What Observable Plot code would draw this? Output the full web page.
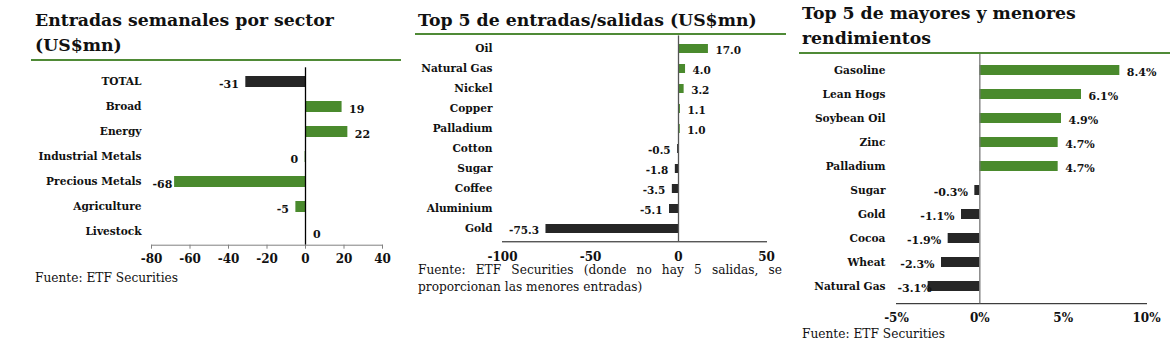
<!DOCTYPE html>
<html>
<head>
<meta charset="utf-8">
<script src="https://cdn.jsdelivr.net/npm/d3@7"></script>
<script src="https://cdn.jsdelivr.net/npm/@observablehq/plot@0.6"></script>
<style>
  html, body { margin: 0; padding: 0; background: #fff; }
  #root { position: relative; width: 1174px; height: 364px; overflow: hidden; font-family: "DejaVu Serif", serif; color: #111; }
  .title { position: absolute; font-weight: bold; font-size: 17.3px; line-height: 25px; color: #111; white-space: nowrap; }
  .rule { position: absolute; height: 2px; background: #4f8a36; }
  .cap { position: absolute; font-size: 12.2px; line-height: 16.5px; color: #111; }
  .plot { position: absolute; }
  .plot svg text { font-weight: bold; }
</style>
</head>
<body>
<div id="root">
  <div class="title" style="left:35px; top:8px;">Entradas semanales por sector<br>(US$mn)</div>
  <div class="rule" style="left:31px; top:59px; width:370px;"></div>
  <div class="plot" id="p1" style="left:0px; top:62px;"></div>
  <div class="cap" style="left:35px; top:270px;">Fuente: ETF Securities</div>

  <div class="title" style="left:418px; top:8px;">Top 5 de entradas/salidas (US$mn)</div>
  <div class="rule" style="left:415px; top:33px; width:371px;"></div>
  <div class="plot" id="p2" style="left:405px; top:30px;"></div>
  <div class="cap" style="left:418px; top:262px; width:364px;">
    <div style="text-align:justify; text-align-last:justify;">Fuente: ETF Securities (donde no hay 5 salidas, se</div>
    <div>proporcionan las menores entradas)</div>
  </div>

  <div class="title" style="left:802px; top:1px;">Top 5 de mayores y menores<br>rendimientos</div>
  <div class="rule" style="left:799px; top:52px; width:371px;"></div>
  <div class="plot" id="p3" style="left:795px; top:50px;"></div>
  <div class="cap" style="left:802px; top:326px;">Fuente: ETF Securities</div>
</div>
<script>
// ---------- Data ----------
const sectorNames = ["TOTAL", "Broad", "Energy", "Industrial Metals", "Precious Metals", "Agriculture", "Livestock"];
const sectorFlows = [-31, 19, 22, -0.2, -68, -5, 0.2];
const sectorTicks = [-80, -60, -40, -20, 0, 20, 40];

const flowNames = ["Oil", "Natural Gas", "Nickel", "Copper", "Palladium", "Cotton", "Sugar", "Coffee", "Aluminium", "Gold"];
const flowValues = [17.0, 4.0, 3.2, 1.1, 1.0, -0.5, -1.8, -3.5, -5.1, -75.3];
const flowTicks = [-100, -50, 0, 50];

const perfNames = ["Gasoline", "Lean Hogs", "Soybean Oil", "Zinc", "Palladium", "Sugar", "Gold", "Cocoa", "Wheat", "Natural Gas"];
const perfValues = [8.4, 6.1, 4.9, 4.7, 4.7, -0.3, -1.1, -1.9, -2.3, -3.1];
const perfTicks = [-5, 0, 5, 10];

const GREEN = "#4a8a2d";
const DARK = "#262626";
const FONT = "DejaVu Serif";

const ctx = document.createElement("canvas").getContext("2d");
function textWidth(s, size) { ctx.font = `bold ${size}px "${FONT}"`; return ctx.measureText(s).width; }

function barChart({names, values, ticks, domain, width, height, margins, fill, fmt, tickFmt, tickSize, tickPadding, zeroStroke, axisStroke, labelSize, valueSize, tickFont, padL}) {
  const data = names.map((n, i) => ({name: n, value: values[i]}));
  const pxPerUnit = (width - margins[1] - margins[3]) / (domain[1] - domain[0]);
  const gap = 7;
  // negative labels that would spill past the left edge of the plot area are kept inside it (as in the source chart)
  const fits = d => (d.value - domain[0]) * pxPerUnit - gap - textWidth(fmt(d.value), valueSize) >= 0;
  const pos = data.filter(d => d.value >= 0);
  const neg = data.filter(d => d.value < 0 && fits(d));
  const clamped = data.filter(d => d.value < 0 && !fits(d));
  return Plot.plot({
    width, height,
    marginTop: margins[0], marginRight: margins[1], marginBottom: margins[2], marginLeft: margins[3],
    style: {fontFamily: FONT, background: "transparent", overflow: "visible", color: "#111"},
    x: {domain, ticks, tickFormat: tickFmt, label: null},
    y: {domain: names, paddingInner: 0.57, paddingOuter: 0.285, label: null},
    marks: [
      Plot.barX(data, {x: "value", y: "name", fill: d => fill(d)}),
      Plot.frame({anchor: "bottom", stroke: axisStroke}),
      Plot.ruleX([0], {stroke: zeroStroke, strokeWidth: 1.3}),
      Plot.axisX({ticks, tickFormat: tickFmt, tickSize, tickPadding, fontSize: tickFont, stroke: axisStroke, label: null}),
      Plot.axisY({tickSize: 0, tickPadding: padL, fontSize: labelSize, label: null}),
      Plot.text(pos, {x: "value", y: "name", text: d => fmt(d.value), textAnchor: "start", dx: gap, dy: 2, fontSize: valueSize, fill: "#111"}),
      Plot.text(neg, {x: "value", y: "name", text: d => fmt(d.value), textAnchor: "end", dx: -gap, dy: 2, fontSize: valueSize, fill: "#111"}),
      Plot.text(clamped, {x: () => domain[0], y: "name", text: d => fmt(d.value), textAnchor: "start", dx: 1, dy: 2, fontSize: valueSize, fill: "#111"})
    ]
  });
}

document.getElementById("p1").append(barChart({
  names: sectorNames, values: sectorFlows, ticks: sectorTicks, domain: [-80, 40],
  width: 400, height: 210, margins: [5.3, 18, 27.3, 151],
  fill: d => d.name === "TOTAL" ? DARK : GREEN,
  fmt: v => String(Math.round(v) === 0 ? 0 : Math.round(v)),
  tickFmt: d => String(d), tickSize: 4, tickPadding: 5,
  zeroStroke: "#000", axisStroke: "#808080", labelSize: 10.6, valueSize: 11, tickFont: 12, padL: 10
}));

document.getElementById("p2").append(barChart({
  names: flowNames, values: flowValues, ticks: flowTicks, domain: [-100, 50],
  width: 380, height: 250, margins: [5.4, 19, 38.7, 97],
  fill: d => d.value >= 0 ? GREEN : DARK,
  fmt: v => v.toFixed(1),
  tickFmt: d => String(d), tickSize: 0, tickPadding: 11,
  zeroStroke: "#555", axisStroke: "#111", labelSize: 10.6, valueSize: 10.5, tickFont: 12, padL: 10
}));

document.getElementById("p3").append(barChart({
  names: perfNames, values: perfValues, ticks: perfTicks, domain: [-5, 10],
  width: 379, height: 280, margins: [3.9, 28, 26.8, 101],
  fill: d => d.value >= 0 ? GREEN : DARK,
  fmt: v => v.toFixed(1) + "%",
  tickFmt: d => d + "%", tickSize: 0, tickPadding: 10,
  zeroStroke: "#777", axisStroke: "#111", labelSize: 10.6, valueSize: 11, tickFont: 12, padL: 11
}));
</script>
</body>
</html>
